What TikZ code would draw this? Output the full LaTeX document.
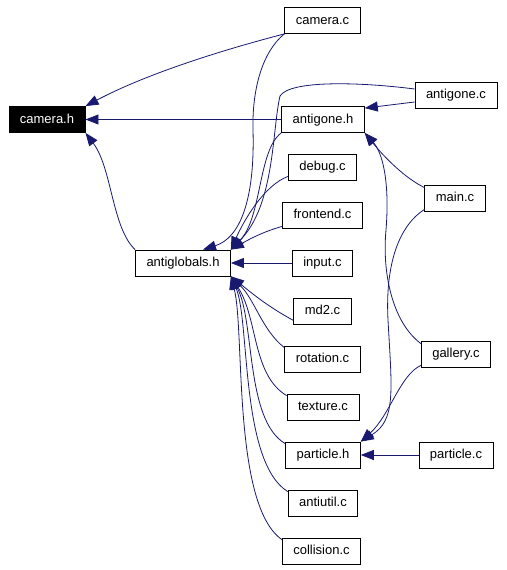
\documentclass[tikz,border=0pt]{standalone}
\usepackage{fontspec}
\setmainfont{Liberation Sans}
\usetikzlibrary{arrows.meta}
\definecolor{edgeblue}{HTML}{191970}

\begin{document}
\begin{tikzpicture}[x=1pt,y=-1pt,
    file/.style={draw=black, line width=0.8pt, fill=white, inner xsep=11pt, inner ysep=0pt,
      minimum height=26pt, text height=9.5pt, text depth=2.5pt, font=\fontsize{13}{15}\selectfont},
    current/.style={file, fill=black, text=white},
    dep/.style={draw=edgeblue, line width=0.8pt, -{Triangle[length=13pt,width=10pt]}}
  ]
  \useasboundingbox (0,0) rectangle (506,570);
  % Files
  \node[current] (camerah) at (47,119.5) {camera.h};
  \node[file] (antiglobals) at (183,263) {antiglobals.h};
  \node[file] (camerac) at (322.5,20.5) {camera.c};
  \node[file] (antigoneh) at (323,119.5) {antigone.h};
  \node[file] (debugc) at (322.5,167) {debug.c};
  \node[file] (frontendc) at (322.5,215) {frontend.c};
  \node[file] (inputc) at (322.5,263) {input.c};
  \node[file] (md2c) at (322.5,311) {md2.c};
  \node[file] (rotationc) at (322.5,359) {rotation.c};
  \node[file] (texturec) at (323,407) {texture.c};
  \node[file] (particleh) at (323,455) {particle.h};
  \node[file] (antiutilc) at (323,503) {antiutil.c};
  \node[file] (collisionc) at (321.5,551) {collision.c};
  \node[file] (antigonec) at (456,95) {antigone.c};
  \node[file] (mainc) at (455,198) {main.c};
  \node[file] (galleryc) at (456,354) {gallery.c};
  \node[file] (particlec) at (456,455) {particle.c};
  %
  % camera.h
  \draw[dep] (camerac.south west) .. controls (230,48) and (150,72) .. (camerah.north east);
  \draw[dep] (antigoneh.west) -- (camerah.east);
  \draw[dep] (antiglobals.north west) .. controls (112,228) and (112,168) .. (camerah.south east);
  %
  % antiglobals.h
  \draw[dep] (camerac.south west) .. controls (262,52) and (252,90) .. (253,130)
    .. controls (255,200) and (240,238) .. ([xshift=20pt]antiglobals.north);
  \draw[dep] ([yshift=6pt]antigonec.west) .. controls (360,82) and (290,80) .. (280,96)
    .. controls (272,130) and (275,205) .. (antiglobals.north east);
  \draw[dep] (antigoneh.south west) .. controls (258,150) and (262,218) .. (antiglobals.north east);
  \draw[dep] ([yshift=4pt]debugc.south west) .. controls (265,185) and (245,218) .. (antiglobals.north east);
  \draw[dep] ([yshift=2pt]frontendc.south west) .. controls (262,232) and (248,240) .. (antiglobals.north east);
  \draw[dep] (inputc.west) -- (antiglobals.east);
  \draw[dep] ([yshift=4pt]md2c.south west) .. controls (265,305) and (248,290) .. (antiglobals.south east);
  \draw[dep] ([yshift=-2pt]rotationc.north west) .. controls (262,330) and (255,300) .. (antiglobals.south east);
  \draw[dep] ([yshift=-2pt]texturec.north west) .. controls (252,375) and (258,318) .. (antiglobals.south east);
  \draw[dep] ([yshift=-2pt]particleh.north west) .. controls (245,420) and (255,320) .. (antiglobals.south east);
  \draw[dep] ([yshift=-2pt]antiutilc.north west) .. controls (240,462) and (250,320) .. (antiglobals.south east);
  \draw[dep] ([yshift=-2pt]collisionc.north west) .. controls (232,505) and (245,330) .. (antiglobals.south east);
  %
  % antigone.h
  \draw[dep] ([yshift=-7pt]antigonec.west) -- ([yshift=-2pt]antigoneh.north east);
  \draw[dep] ([yshift=-3pt]mainc.north west) .. controls (405,178) and (385,158) .. (antigoneh.south east);
  \draw[dep] ([yshift=-3pt]galleryc.north west) .. controls (392,322) and (382,272) .. (386,230)
    .. controls (390,180) and (382,152) .. (antigoneh.south east);
  %
  % particle.h
  \draw[dep] ([yshift=2pt]mainc.south west) .. controls (400,225) and (385,262) .. (388,320)
    .. controls (392,392) and (396,420) .. (particleh.north east);
  \draw[dep] ([yshift=2pt]galleryc.south west) .. controls (400,375) and (390,415) .. (particleh.north east);
  \draw[dep] (particlec.west) -- (particleh.east);
\end{tikzpicture}
\end{document}
